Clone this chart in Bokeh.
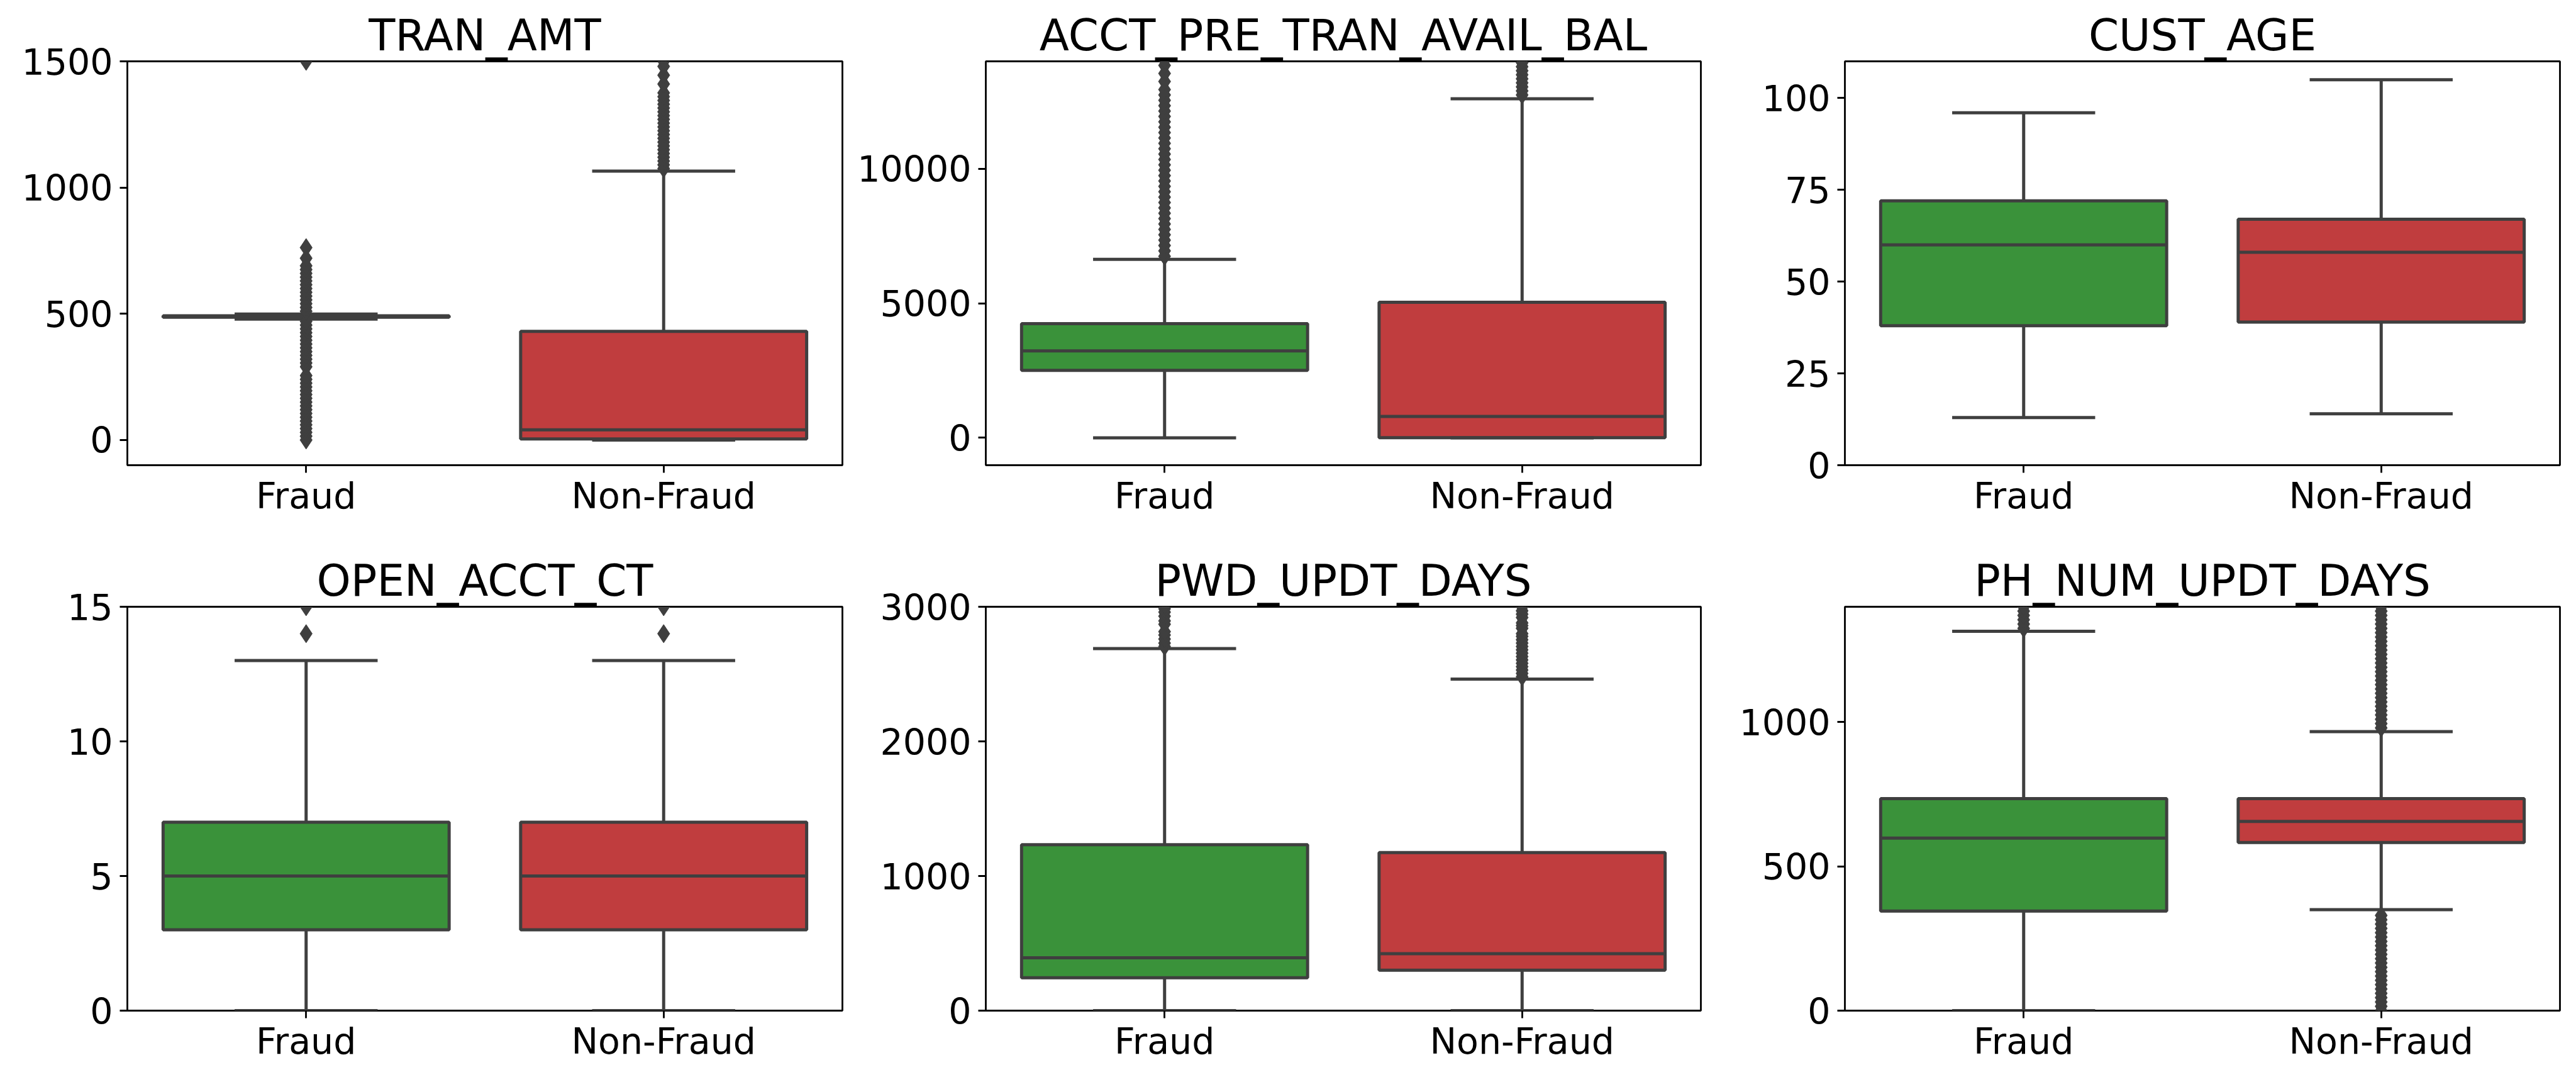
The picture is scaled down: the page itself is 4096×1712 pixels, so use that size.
from bokeh.plotting import figure
from bokeh.layouts import column, row
from bokeh.models import Range1d, FixedTicker
from bokeh.embed import file_html
from bokeh.resources import INLINE

# ---------------- data ----------------
categories = ["Fraud", "Non-Fraud"]
panels = ["TRAN_AMT", "ACCT_PRE_TRAN_AVAIL_BAL", "CUST_AGE",
          "OPEN_ACCT_CT", "PWD_UPDT_DAYS", "PH_NUM_UPDT_DAYS"]

y_limits = [(-100, 1500), (-1020, 14000), (0, 110), (0, 15), (0, 3000), (0, 1400)]
y_ticks = [[0, 500, 1000, 1500], [0, 5000, 10000], [0, 25, 50, 75, 100],
           [0, 5, 10, 15], [0, 1000, 2000, 3000], [0, 500, 1000]]

# five-number summaries, each entry = [Fraud, Non-Fraud]
whisker_lo = [[479, 0], [0, 0], [13, 14], [0, 0], [0, 0], [0, 350]]
box_q1 = [[486, 4], [2505, 5], [38, 39], [3, 3], [244, 300], [345, 583]]
box_med = [[489, 40], [3235, 792], [60, 58], [5, 5], [392, 423], [598, 656]]
box_q3 = [[492, 430], [4245, 5037], [72, 67], [7, 7], [1232, 1174], [735, 735]]
whisker_hi = [[499, 1065], [6637, 12608], [96, 105], [13, 13], [2689, 2463], [1315, 967]]

tran_amt_fliers_fraud = [0, 15, 30, 45, 60, 75, 90, 105, 120, 135, 150, 165, 180, 195, 210,
                         225, 240, 255, 290, 305, 320, 335, 350, 365, 380, 395, 410, 425, 440,
                         455, 470, 510, 525, 540, 555, 570, 585, 600, 615, 630, 645, 660, 675,
                         690, 720, 762, 1500]
tran_amt_fliers_nonfraud = [1075, 1090, 1105, 1120, 1135, 1150, 1165, 1180, 1195, 1210, 1225,
                            1240, 1255, 1270, 1285, 1300, 1315, 1330, 1345, 1360, 1375, 1410,
                            1445, 1480, 1500]
acct_fliers_fraud = [6750, 6950, 7150, 7350, 7550, 7750, 7950, 8150, 8350, 8550, 8750, 8950,
                     9150, 9350, 9550, 9750, 9950, 10150, 10350, 10550, 10750, 10950, 11150,
                     11350, 11550, 11750, 11950, 12150, 12350, 12550, 12750, 12950, 13250,
                     13550, 13850, 14050]
acct_fliers_nonfraud = [12750, 12900, 13050, 13200, 13350, 13500, 13650, 13800, 13950, 14050]
age_fliers_fraud = []
age_fliers_nonfraud = []
open_acct_fliers_fraud = [14, 15]
open_acct_fliers_nonfraud = [14, 15]
pwd_fliers_fraud = [2705, 2730, 2760, 2790, 2815, 2870, 2895, 2930, 2960, 2985, 3010]
pwd_fliers_nonfraud = [2480, 2505, 2530, 2555, 2580, 2605, 2630, 2655, 2680, 2705, 2730, 2755,
                       2780, 2800, 2840, 2860, 2880, 2920, 2945, 2970, 3000]
ph_fliers_fraud = [1325, 1340, 1355, 1370, 1385, 1400]
ph_fliers_nonfraud = [0, 15, 30, 45, 60, 75, 90, 105, 120, 135, 150, 165, 180, 195, 210, 225,
                      240, 255, 270, 285, 300, 315, 330, 980, 995, 1010, 1025, 1040, 1055,
                      1070, 1085, 1100, 1115, 1130, 1145, 1160, 1175, 1190, 1205, 1220, 1235,
                      1250, 1265, 1280, 1295, 1310, 1325, 1340, 1355, 1370, 1385, 1400]

fliers = [
    [tran_amt_fliers_fraud, tran_amt_fliers_nonfraud],
    [acct_fliers_fraud, acct_fliers_nonfraud],
    [age_fliers_fraud, age_fliers_nonfraud],
    [open_acct_fliers_fraud, open_acct_fliers_nonfraud],
    [pwd_fliers_fraud, pwd_fliers_nonfraud],
    [ph_fliers_fraud, ph_fliers_nonfraud],
]

# ---------------- style ----------------
BOX_COLORS = ["#3a923a", "#c03d3e"]
EDGE = "#3f3f3f"
FONT = "DejaVu Sans"
LW = 5
BOX_W = 0.8
CAP_W = 0.4

fig_widths = [1350, 1365, 1381]
border_left = [202, 217, 218]
border_right = [11, 11, 26]
fig_heights = [856, 856]
border_top = [97, 108]
border_bottom = [117, 106]


def make_panel(i):
    r, c = divmod(i, 3)
    p = figure(width=fig_widths[c], height=fig_heights[r],
               x_range=Range1d(-0.5, 1.5), y_range=Range1d(*y_limits[i]),
               output_backend="svg", toolbar_location=None, title=panels[i],
               min_border_left=border_left[c], min_border_right=border_right[c],
               min_border_top=border_top[r], min_border_bottom=border_bottom[r])
    p.title.text_font = FONT
    p.title.text_font_size = "69px"
    p.title.text_font_style = "normal"
    p.title.align = "center"
    p.title.text_color = "black"
    p.title.standoff = 4
    p.xgrid.visible = False
    p.ygrid.visible = False
    p.outline_line_color = "black"
    p.outline_line_width = 2.8
    p.outline_line_alpha = 1
    p.background_fill_color = "white"
    p.border_fill_color = "white"

    p.xaxis.ticker = FixedTicker(ticks=list(range(len(categories))))
    p.xaxis.major_label_overrides = {k: v for k, v in enumerate(categories)}
    p.yaxis.ticker = FixedTicker(ticks=y_ticks[i])
    for ax in (p.xaxis[0], p.yaxis[0]):
        ax.axis_line_color = None
        ax.major_tick_out = 12
        ax.major_tick_in = 0
        ax.minor_tick_out = 0
        ax.minor_tick_in = 0
        ax.major_tick_line_width = 2.8
        ax.major_tick_line_color = "black"
        ax.major_label_text_font = FONT
        ax.major_label_text_font_size = "57px"
        ax.major_label_text_color = "black"
    p.yaxis[0].major_label_standoff = 11
    p.xaxis[0].major_label_standoff = 3

    xs = list(range(len(categories)))
    lo, q1, med, q3, hi = whisker_lo[i], box_q1[i], box_med[i], box_q3[i], whisker_hi[i]

    # boxes
    p.quad(left=[x - BOX_W / 2 for x in xs], right=[x + BOX_W / 2 for x in xs],
           bottom=q1, top=q3, fill_color=BOX_COLORS, line_color=EDGE, line_width=LW)
    # whiskers
    p.segment(x0=xs, y0=q1, x1=xs, y1=lo, line_color=EDGE, line_width=LW)
    p.segment(x0=xs, y0=q3, x1=xs, y1=hi, line_color=EDGE, line_width=LW)
    # caps
    p.segment(x0=[x - CAP_W / 2 for x in xs], y0=lo, x1=[x + CAP_W / 2 for x in xs], y1=lo,
              line_color=EDGE, line_width=LW)
    p.segment(x0=[x - CAP_W / 2 for x in xs], y0=hi, x1=[x + CAP_W / 2 for x in xs], y1=hi,
              line_color=EDGE, line_width=LW)
    # medians
    p.segment(x0=[x - BOX_W / 2 for x in xs], y0=med, x1=[x + BOX_W / 2 for x in xs], y1=med,
              line_color=EDGE, line_width=LW)
    # fliers
    for x, vals in zip(xs, fliers[i]):
        if vals:
            p.scatter(x=[x] * len(vals), y=vals, marker="diamond", size=29,
                      fill_color=EDGE, line_color=EDGE, line_width=1)
    return p


plots = [make_panel(i) for i in range(6)]
layout = column(row(*plots[:3]), row(*plots[3:]))

open("out.html", "w").write(file_html(layout, INLINE))
